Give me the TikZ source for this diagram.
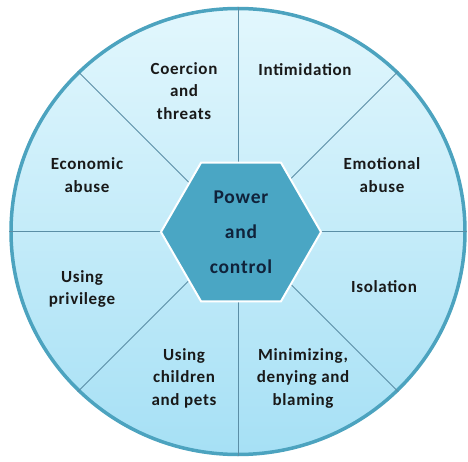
\documentclass[tikz,border=0pt]{standalone}
\usepackage{fontspec}
\setmainfont[LetterSpace=4]{Carlito}
\usetikzlibrary{shapes.geometric}
\definecolor{rim}{HTML}{4CA3BF}
\definecolor{spoke}{HTML}{5B8EA6}
\definecolor{hubfill}{HTML}{4AA6C4}
\definecolor{ink}{HTML}{10223A}
\definecolor{paletop}{HTML}{E2F7FD}
\definecolor{palebot}{HTML}{A6E0F5}

\begin{document}
\begin{tikzpicture}[x=1pt,y=-1pt,
    wheel/.style ={ellipse, draw=rim, line width=3.5pt, top color=paletop, bottom color=palebot,
      minimum width=454, minimum height=446, inner sep=0pt},
    hub/.style ={regular polygon, regular polygon sides=6, minimum size=160, inner sep=0pt,
      fill=hubfill, draw=white, line width=2pt, text=ink, font=\fontsize{19.5}{35}\selectfont\bfseries, align=center},
    slice/.style ={text=black!90, font=\fontsize{17}{22.5}\selectfont\bfseries, align=center}]
   \useasboundingbox (0,0) rectangle (468,462);
   \node[wheel] (W) at (238,231.5) {};
   \foreach \a in {0,45,...,315}
      \draw[spoke, line width=0.8pt] (W.center) -- (W.\a);
   \node[hub] (P) at (241,232) {Power\\and\\control};
   \node[slice] (C) at (184,91) {Coercion\\and\\threats};
   \node[slice] (I) at (305,70) {Intimidation};
   \node[slice] (E) at (87,175) {Economic\\abuse};
   \node[slice] (M) at (382,175) {Emotional\\abuse};
   \node[slice] (U) at (82,289) {Using\\privilege};
   \node[slice] (S) at (384,287) {Isolation};
   \node[slice] (K) at (184,378) {Using\\children\\and pets};
   \node[slice] (B) at (303,378) {Minimizing,\\denying and\\blaming};
 \end{tikzpicture}
\end{document}
